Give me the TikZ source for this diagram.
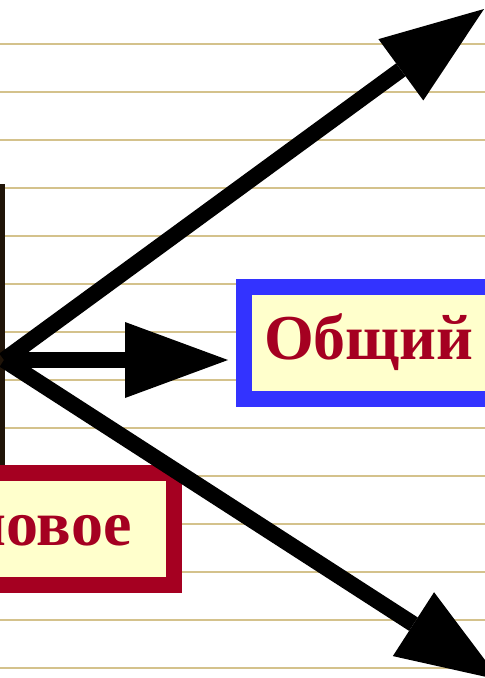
\documentclass[tikz,border=0pt]{standalone}
\usepackage{fontspec}
\setmainfont{Liberation Serif}
\usetikzlibrary{arrows.meta}
\definecolor{RuleTan}{RGB}{212,194,140}
\definecolor{DarkRed}{RGB}{165,0,33}
\definecolor{BoxBlue}{RGB}{51,51,255}
\definecolor{PaleYellow}{RGB}{255,255,204}
\definecolor{PostBrown}{RGB}{32,20,8}
\tikzset{
	ruled/.style={RuleTan, line width=2.5pt},
	post/.style={PostBrown, line width=5pt},
	bigarrow/.style={line width=16pt,
		-{Triangle[length=103pt,width=76pt,line width=0pt]}},
	wordbox/.style={draw, line width=16pt, fill=PaleYellow, text=DarkRed,
		inner xsep=20pt, outer sep=0pt, minimum height=112pt,
		text height=43pt, text depth=11pt,
		font=\fontsize{64}{70}\selectfont\bfseries}
}

\begin{document}
\begin{tikzpicture}[x=1pt, y=-1pt]
	\useasboundingbox (0,0) rectangle (485,678);
	% ruled background
	\foreach \y in {44,92,...,668}
	\draw[ruled] (0,\y) -- (485,\y);
	\draw[post] (2.5,184) -- (2.5,480);
	\coordinate (src) at (4,360);
	\coordinate (upTip) at (484,9);
	\coordinate (downTip) at (500,680);
	\node[wordbox, draw=BoxBlue, anchor=west] (obsh) at (244,343) {Общий};
	\node[wordbox, draw=DarkRed, minimum width=247pt, anchor=east] (osnov) at (174,529) {новое};
	\draw[bigarrow] (src) -- (upTip);
	\draw[bigarrow] (src) -- (downTip);
	\draw[bigarrow] (src) -- ([xshift=-16pt]src -| obsh.west);
\end{tikzpicture}
\end{document}
